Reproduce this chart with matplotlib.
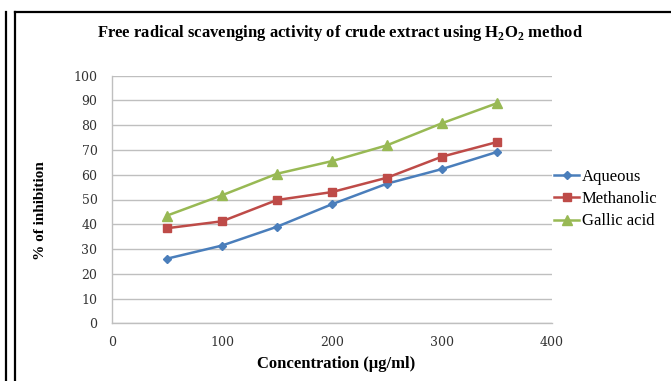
import matplotlib
matplotlib.use("Agg")
import matplotlib.pyplot as plt
from matplotlib.lines import Line2D

concentration = [50, 100, 150, 200, 250, 300, 350]
aqueous = [26.1, 31.4, 39.0, 48.1, 56.4, 62.3, 69.2]
methanolic = [38.4, 41.2, 49.8, 53.0, 58.8, 67.3, 73.2]
gallic_acid = [43.5, 51.7, 60.4, 65.5, 71.9, 80.8, 88.9]
series_names = ["Aqueous", "Methanolic", "Gallic acid"]
x_ticks = [0, 100, 200, 300, 400]
y_ticks = list(range(0, 101, 10))

W, H = 671, 381
fig = plt.figure(figsize=(W / 100, H / 100), dpi=100)
plt.rcParams['font.family'] = ['Liberation Serif', 'DejaVu Serif']

def fx(px):
    return px / W

def fy(py):
    return 1 - py / H

ax = fig.add_axes([fx(112), fy(323.3), fx(552) - fx(112), fy(75.7) - fy(323.3)])

ax.plot(concentration, aqueous, color="#4A7EBB", marker="D", markersize=4, lw=1.8, label=series_names[0])
ax.plot(concentration, methanolic, color="#BE4B48", marker="s", markersize=6, lw=1.8, label=series_names[1])
ax.plot(concentration, gallic_acid, color="#98B954", marker="^", markersize=6.5, lw=1.8, label=series_names[2])

ax.set_xlim(0, 400)
ax.set_ylim(0, 100)
ax.set_xticks(x_ticks)
ax.set_yticks(y_ticks)
ax.yaxis.grid(True, color="#BFBFBF", lw=1)
ax.set_axisbelow(True)
for s in ["top", "right"]:
    ax.spines[s].set_visible(False)
for s in ["left", "bottom"]:
    ax.spines[s].set_color("#BFBFBF")
    ax.spines[s].set_linewidth(1)
ax.tick_params(length=0, colors="#333333")
ax.tick_params(axis="y", pad=10.5)
ax.tick_params(axis="x", pad=9)
for lab in ax.get_xticklabels() + ax.get_yticklabels():
    lab.set_color("#333333")
    lab.set_fontfamily("DejaVu Serif")
    lab.set_fontsize(9)

fig.text(fx(340), fy(33), "Free radical scavenging activity of crude extract using H$_\\mathregular{2}$O$_\\mathregular{2}$ method",
         ha="center", va="center", fontsize=12, fontweight="bold")
fig.text(fx(336), fy(364), "Concentration (\u00b5g/ml)", ha="center", va="center", fontsize=12, fontweight="bold")
fig.text(fx(40), fy(211), "% of inhibition", ha="center", va="center", rotation=90, fontsize=11, fontweight="bold")

leg = ax.legend(loc="center left", bbox_to_anchor=(fx(554), fy(199)), bbox_transform=fig.transFigure,
                frameon=False, fontsize=12, handlelength=1.5, handletextpad=0.15, labelspacing=0.38,
                borderaxespad=0, borderpad=0)

# outer frame lines
fig.add_artist(Line2D([fx(5.5), fx(5.5)], [fy(12), 0], color="black", lw=1.6, transform=fig.transFigure))
fig.add_artist(Line2D([fx(14.5), fx(14.5)], [0, fy(11.5)], color="black", lw=1.6, transform=fig.transFigure))
fig.add_artist(Line2D([fx(14.5), 1], [fy(11.5), fy(11.5)], color="black", lw=1.6, transform=fig.transFigure))

fig.savefig("out.png", dpi=100)
